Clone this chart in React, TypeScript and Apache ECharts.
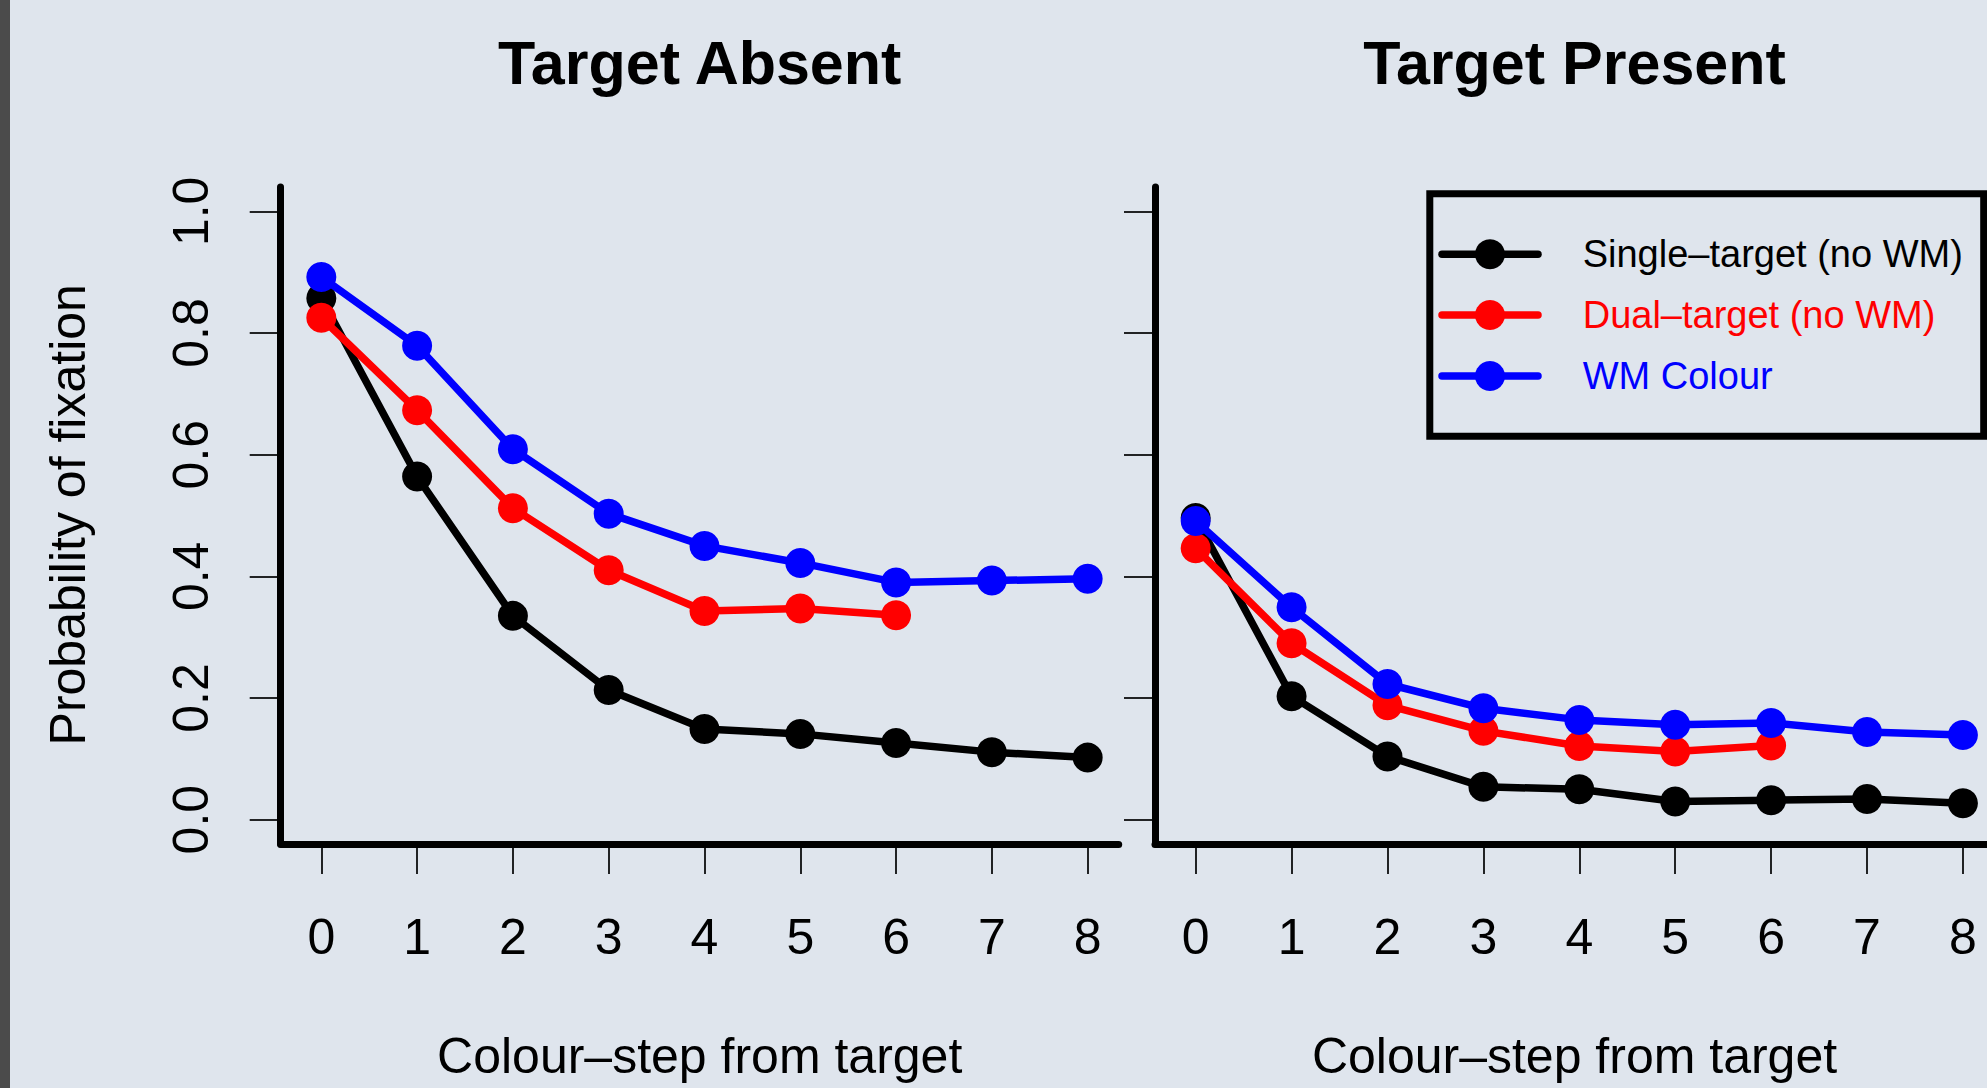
import React, { useEffect, useRef } from "react";
import * as echarts from "echarts";

// Colour-step distance from the target (x axis)
const steps = [0, 1, 2, 3, 4, 5, 6, 7, 8];
const yTicks = [0, 0.2, 0.4, 0.6, 0.8, 1.0];

// Target absent panel
const absentSingle = [0.857, 0.564, 0.335, 0.213, 0.149, 0.141, 0.126, 0.111, 0.102];
const absentDual = [0.825, 0.673, 0.512, 0.410, 0.343, 0.347, 0.336];
const absentWM = [0.892, 0.779, 0.609, 0.503, 0.450, 0.422, 0.390, 0.393, 0.396];

// Target present panel
const presentSingle = [0.496, 0.203, 0.104, 0.054, 0.050, 0.030, 0.032, 0.034, 0.027];
const presentDual = [0.446, 0.290, 0.188, 0.146, 0.121, 0.112, 0.122];
const presentWM = [0.491, 0.349, 0.223, 0.183, 0.164, 0.156, 0.159, 0.144, 0.139];

const panelTitles = ["Target Absent", "Target Present"];
const seriesNames = ["Single\u2013target (no WM)", "Dual\u2013target (no WM)", "WM Colour"];
const seriesColors = ["#000000", "#ff0000", "#0000ff"];
const xTitle = "Colour\u2013step from target";
const yTitle = "Probability of fixation";

const BG = "#dfe5ed";
const FONT = '"Liberation Sans", Arial, Helvetica, sans-serif';
const W = 1987;
const H = 1088;

const X_MIN = -0.424;
const X_MAX = 8.324;
const Y_MIN = -0.04;
const Y_MAX = 1.04;

const grids = [
  { left: 280.7, top: 187, width: 838, height: 657 },
  { left: 1155, top: 187, width: 839, height: 657 },
];

const pairs = (vals: number[]) => vals.map((v, i) => [steps[i], v]);

function buildOption() {
  const panels = [
    [absentSingle, absentDual, absentWM],
    [presentSingle, presentDual, presentWM],
  ];

  const xAxis = grids.map((_, i) => ({
    type: "value",
    gridIndex: i,
    min: X_MIN,
    max: X_MAX,
    splitLine: { show: false },
    axisLine: { show: true, onZero: false, lineStyle: { color: "#000", width: 7, cap: "round" } },
    axisTick: { show: true, customValues: steps, length: 30, lineStyle: { color: "#000", width: 1.7 } },
    axisLabel: {
      show: true,
      customValues: steps,
      margin: 68,
      fontSize: 50,
      color: "#000",
      fontFamily: FONT,
      formatter: (v: number) => String(Math.round(v)),
    },
  }));

  const yAxis = grids.map((_, i) => ({
    type: "value",
    gridIndex: i,
    min: Y_MIN,
    max: Y_MAX,
    splitLine: { show: false },
    axisLine: { show: true, onZero: false, lineStyle: { color: "#000", width: 7, cap: "round" } },
    axisTick: { show: true, customValues: yTicks, length: 31, lineStyle: { color: "#000", width: 1.7 } },
    axisLabel: {
      show: i === 0,
      customValues: yTicks,
      rotate: 90,
      margin: 65,
      fontSize: 50,
      color: "#000",
      fontFamily: FONT,
      formatter: (v: number) => v.toFixed(1),
    },
  }));

  const series: any[] = [];
  panels.forEach((panel, p) => {
    panel.forEach((vals, k) => {
      series.push({
        type: "line",
        name: seriesNames[k],
        xAxisIndex: p,
        yAxisIndex: p,
        data: pairs(vals),
        symbol: "circle",
        symbolSize: 30,
        showSymbol: true,
        lineStyle: { color: seriesColors[k], width: 7.5, cap: "round", join: "round" },
        itemStyle: { color: seriesColors[k], borderWidth: 0 },
        emphasis: { disabled: true },
        z: 2 + k,
      });
    });
  });

  // Legend box in the right panel
  const legendRows = [254.3, 315, 376];
  const legendEls: any[] = [
    {
      type: "rect",
      shape: { x: 1429.8, y: 193.7, width: 553.9, height: 242.6 },
      style: { fill: "none", stroke: "#000", lineWidth: 7 },
    },
  ];
  seriesNames.forEach((name, k) => {
    const y = legendRows[k];
    legendEls.push(
      {
        type: "line",
        shape: { x1: 1442, y1: y, x2: 1538, y2: y },
        style: { stroke: seriesColors[k], lineWidth: 7.5, lineCap: "round" },
      },
      {
        type: "circle",
        shape: { cx: 1490, cy: y, r: 15 },
        style: { fill: seriesColors[k] },
      },
      {
        type: "text",
        x: 1582.7,
        y,
        style: {
          text: name,
          fill: seriesColors[k],
          font: `38px ${FONT}`,
          textAlign: "left",
          textVerticalAlign: "middle",
        },
      }
    );
  });

  const centers = grids.map((g) => g.left + g.width / 2);

  const textEls: any[] = [];
  panelTitles.forEach((t, i) => {
    textEls.push({
      type: "text",
      x: centers[i],
      y: 62.8,
      style: {
        text: t,
        fill: "#000",
        font: `bold 61px ${FONT}`,
        textAlign: "center",
        textVerticalAlign: "middle",
      },
    });
    textEls.push({
      type: "text",
      x: centers[i],
      y: 1056.3,
      style: {
        text: xTitle,
        fill: "#000",
        font: `50px ${FONT}`,
        textAlign: "center",
        textVerticalAlign: "middle",
      },
    });
  });
  textEls.push({
    type: "text",
    x: 68,
    y: 514.8,
    rotation: Math.PI / 2,
    style: {
      text: yTitle,
      fill: "#000",
      font: `50px ${FONT}`,
      textAlign: "center",
      textVerticalAlign: "middle",
    },
  });

  return {
    animation: false,
    backgroundColor: BG,
    tooltip: { show: false },
    grid: grids.map((g) => ({ ...g, containLabel: false, outerBoundsMode: "none" })),
    xAxis,
    yAxis,
    series,
    graphic: [
      { type: "rect", shape: { x: 0, y: 0, width: 10, height: H }, style: { fill: "#4b4b4b" }, silent: true },
      ...textEls,
      ...legendEls,
    ],
  };
}

export default function App() {
  const ref = useRef<HTMLDivElement>(null);

  useEffect(() => {
    if (!ref.current) return;
    const chart = echarts.init(ref.current, null, { renderer: "svg" });
    chart.setOption(buildOption() as any);
    return () => chart.dispose();
  }, []);

  return (
    <div
      style={{
        position: "fixed",
        left: 0,
        top: 0,
        width: W,
        height: H,
        overflow: "hidden",
        background: BG,
      }}
    >
      <div ref={ref} style={{ width: W, height: H }} />
    </div>
  );
}
